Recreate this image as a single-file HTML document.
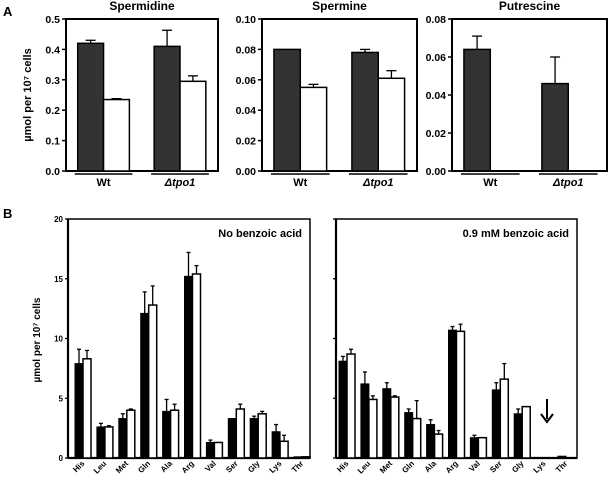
<!DOCTYPE html>
<html><head><meta charset="utf-8"><style>
body{margin:0;background:#fff;}
svg{display:block;font-family:"Liberation Sans",Arial,sans-serif;}
</style></head><body>
<svg id="c" width="609" height="483" viewBox="0 0 609 483" xmlns="http://www.w3.org/2000/svg"></svg>
<script>
// Panel A data
const aTitles = ["Spermidine","Spermine","Putrescine"];
const aGroups = ["Wt","Δtpo1"];
const aMax = [0.5,0.10,0.08];
const aTicks = [["0.0","0.1","0.2","0.3","0.4","0.5"],["0.00","0.02","0.04","0.06","0.08","0.10"],["0.00","0.02","0.04","0.06","0.08"]];
const aDark = [[0.42,0.41],[0.080,0.078],[0.064,0.046]];
const aDarkErr = [[0.43,0.463],[0.080,0.080],[0.071,0.060]];
const aWhite = [[0.235,0.295],[0.055,0.061],[null,null]];
const aWhiteErr = [[0.238,0.313],[0.057,0.066],[null,null]];
// Panel B data
const bCats = ["His","Leu","Met","Gln","Ala","Arg","Val","Ser","Gly","Lys","Thr"];
const bTicks = ["0","5","10","15","20"];
const bLeftDark = [7.9,2.6,3.3,12.1,3.9,15.2,1.3,3.3,3.3,2.2,0.1];
const bLeftDarkErr = [9.1,2.9,3.7,13.9,4.9,17.2,1.5,3.3,3.5,2.8,0.1];
const bLeftWhite = [8.3,2.6,4.0,12.8,4.0,15.4,1.3,4.1,3.7,1.4,0.1];
const bLeftWhiteErr = [9.0,2.7,4.1,14.4,4.5,16.1,1.3,4.5,3.9,1.9,0.1];
const bRightDark = [8.1,6.2,5.8,3.8,2.8,10.7,1.7,5.7,3.7,0,0.15];
const bRightDarkErr = [8.5,7.2,6.3,4.1,3.2,11.0,1.9,6.3,4.1,0,0.15];
const bRightWhite = [8.7,4.9,5.1,3.3,2.0,10.6,1.7,6.6,4.3,0,0];
const bRightWhiteErr = [9.1,5.2,5.2,4.8,2.3,11.2,1.7,7.9,4.3,0,0];

const svg = document.getElementById('c');
const NS = "http://www.w3.org/2000/svg";
function mk(tag, attrs, name, parent){
  const e = document.createElementNS(NS, tag);
  for (const k in attrs) e.setAttribute(k, attrs[k]);
  
  
  (parent||svg).appendChild(e);
  return e;
}
function txt(x,y,s,attrs,name){
  const t = mk('text', Object.assign({x:x,y:y,'font-size':11,'font-weight':'bold',fill:'#000'},attrs||{}), name);
  t.textContent = s; return t;
}
function errBar(x,yTop,yVal,name,cw){
  if (yTop >= yVal - 0.5) return;
  mk('line',{x1:x,y1:yVal,x2:x,y2:yTop,stroke:'#000','stroke-width':1.3},name);
  mk('line',{x1:x-cw,y1:yTop,x2:x+cw,y2:yTop,stroke:'#000','stroke-width':1.3},name+'-cap');
}
txt(3,16,"A",{'font-size':13},'panel-a-label');
txt(3,218,"B",{'font-size':13},'panel-b-label');

// Panel A
const aBox = [[66,218],[262,417],[452,607]];
const aTop = 19, aBot = 171;
aBox.forEach((bx,p)=>{
  const [x0,x1] = bx, W = x1-x0;
  const ys = v => aBot - v/aMax[p]*(aBot-aTop);
  mk('rect',{x:x0,y:aTop,width:W,height:aBot-aTop,fill:'none',stroke:'#000','stroke-width':2},'plot-frame-a'+(p+1));
  txt((x0+x1)/2,10,aTitles[p],{'text-anchor':'middle','font-size':12},'title-'+aTitles[p].toLowerCase());
  aTicks[p].forEach((t,i)=>{
    const y = ys(aMax[p]*i/(aTicks[p].length-1));
    mk('line',{x1:x0-4,y1:y,x2:x0,y2:y,stroke:'#000','stroke-width':1.5},'y-tick');
    txt(x0-6,y+4,t,{'text-anchor':'end','font-size':10.5},'y-tick-label');
  });
  aGroups.forEach((g,gi)=>{
    const gx = x0 + W*(gi===0?0.077:0.58);
    const bw = W*0.17;
    const yd = ys(aDark[p][gi]);
    mk('rect',{x:gx,y:yd,width:bw,height:aBot-yd,fill:'#333',stroke:'#000','stroke-width':1.5},'bar-dark-'+g);
    errBar(gx+bw/2,ys(aDarkErr[p][gi]),yd,'error-bar',5);
    if (aWhite[p][gi]!==null){
      const yw = ys(aWhite[p][gi]);
      mk('rect',{x:gx+bw,y:yw,width:bw,height:aBot-yw,fill:'#fff',stroke:'#000','stroke-width':1.5},'bar-white-'+g);
      errBar(gx+bw*1.5,ys(aWhiteErr[p][gi]),yw,'error-bar',5);
    }
    mk('line',{x1:gx-3,y1:174,x2:gx+2*bw+3,y2:174,stroke:'#000','stroke-width':1.5},'group-underline');
    txt(gx+bw,186,g,{'text-anchor':'middle','font-style':gi?'italic':'normal','font-size':11},'group-label-'+gi);
  });
});
txt(0,0,"µmol per 10⁷ cells",{'font-size':11,'text-anchor':'middle',transform:'translate(31,95) rotate(-90)'},'y-axis-title-a');

// Panel B
const bTop = 219, bBot = 458;
function panelB(x0,x1,first,dark,darkE,white,whiteE,label,pn){
  const ys = v => bBot - v/20*(bBot-bTop);
  mk('rect',{x:x0,y:bTop,width:x1-x0,height:bBot-bTop,fill:'none',stroke:'#000','stroke-width':1.5},'plot-frame-b'+pn);
  mk('line',{x1:x0,y1:bTop,x2:x0,y2:bBot,stroke:'#000','stroke-width':2.2},'y-axis-line');
  mk('line',{x1:x0,y1:bBot,x2:x1,y2:bBot,stroke:'#000','stroke-width':2.2},'x-axis-line');
  bTicks.forEach((t,i)=>{
    const y = ys(i*5);
    mk('line',{x1:x0-3,y1:y,x2:x0,y2:y,stroke:'#000','stroke-width':1.3},'y-tick');
    if (pn===1) txt(x0-5,y+3,t,{'text-anchor':'end','font-size':8},'y-tick-label');
  });
  txt(x1-8,237,label,{'text-anchor':'end','font-size':11},'panel-label-'+pn);
  const sp = 21.9, bw = 8;
  bCats.forEach((c,i)=>{
    const gx = first + i*sp;
    const yd = ys(dark[i]);
    if (dark[i]>0){
      mk('rect',{x:gx,y:yd,width:bw,height:bBot-yd,fill:'#000',stroke:'#000','stroke-width':1},'bar-dark-'+c);
      errBar(gx+bw/2,ys(darkE[i]),yd,'error-bar',2);
    }
    if (white[i]>0){
      const yw = ys(white[i]);
      mk('rect',{x:gx+bw,y:yw,width:bw,height:bBot-yw,fill:'#fff',stroke:'#000','stroke-width':1.5},'bar-white-'+c);
      errBar(gx+bw*1.5,ys(whiteE[i]),yw,'error-bar',2);
    }
    const lx = gx+bw+2;
    txt(lx,464,c,{'text-anchor':'end','font-size':8,transform:'rotate(-45 '+lx+' 464)'},'x-label-'+c.toLowerCase());
  });
}
panelB(68,310,75,bLeftDark,bLeftDarkErr,bLeftWhite,bLeftWhiteErr,"No benzoic acid",1);
panelB(336,577,339,bRightDark,bRightDarkErr,bRightWhite,bRightWhiteErr,"0.9 mM benzoic acid",2);
txt(0,0,"µmol per 10⁷ cells",{'font-size':10,'text-anchor':'middle',transform:'translate(40,340) rotate(-90)'},'y-axis-title-b');
mk('line',{x1:547,y1:399,x2:547,y2:419,stroke:'#000','stroke-width':2},'arrow-shaft');
mk('path',{d:'M541,414 L547,422 L553,414',fill:'none',stroke:'#000','stroke-width':2},'arrow-head');
</script>
</body></html>
